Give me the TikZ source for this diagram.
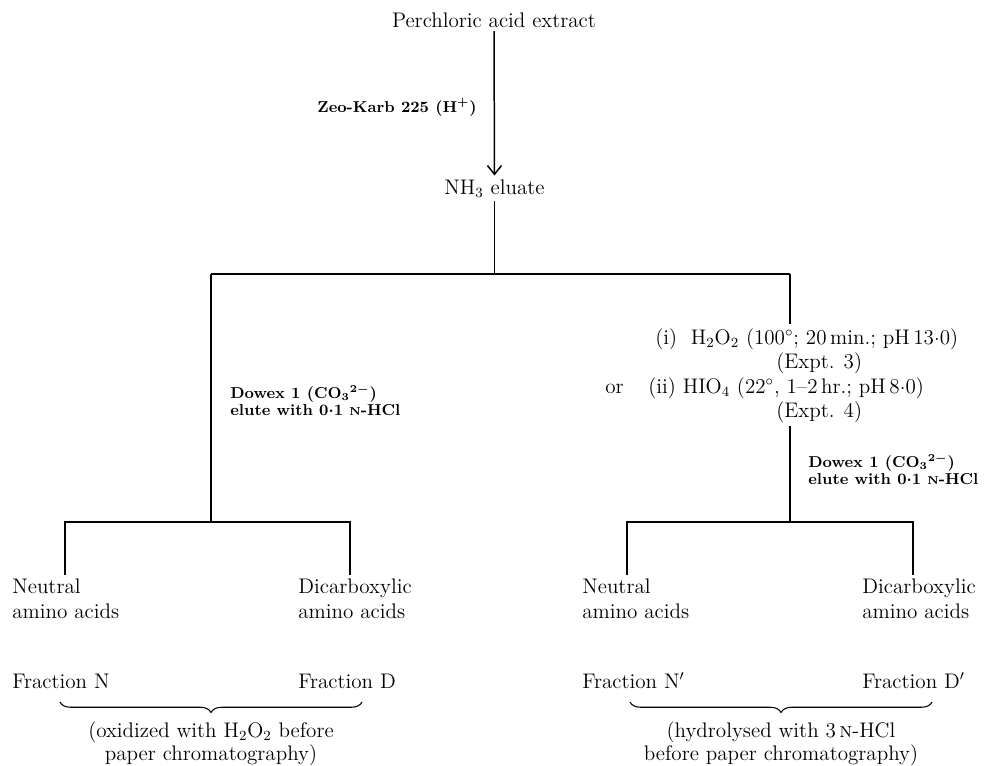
\documentclass[tikz,border=0pt]{standalone}
\usepackage{tikz}
\usetikzlibrary{arrows.meta,positioning,decorations.pathreplacing}

\newcommand{\labN}{{\fontsize{6.5}{6.5}\selectfont N}}
\newcommand{\dec}{\raisebox{0.42ex}{.}}

\tikzset{
  txt/.style={font=\fontsize{12}{14}\selectfont, inner sep=2pt},
  lab/.style={font=\fontsize{9}{9.6}\selectfont\bfseries\boldmath, inner sep=2pt, align=left},
  branch/.style={line width=0.85pt},
  brc/.style={decorate, decoration={brace, mirror, amplitude=0.21cm}, line width=0.6pt}
}

\begin{document}
\begin{tikzpicture}[x=0.02cm,y=-0.02cm]
  \useasboundingbox (0,0) rectangle (984,765);

  % top of the scheme
  \node[txt,anchor=base] (extract) at (494,27) {Perchloric acid extract};
  \node[txt,anchor=base] (eluate) at (494.5,194) {NH$_3$ eluate};
  \draw[branch,-{Straight Barb[length=5pt,width=8pt]}] (extract.south) -- (eluate.north);
  \node[lab,anchor=base east] (zeo) at (480.5,112) {Zeo-Karb 225 (H$^+$)};

  \coordinate (topL) at (211,274);
  \coordinate (topR) at (790,274);
  \coordinate (subL) at (211,522);
  \coordinate (subR) at (790,522);
  \draw[branch] (eluate.south) -- (eluate.south |- topL);
  \draw[branch] (topL) -- (topR);
  \draw[branch] (topL) -- (subL);

  % left branch
  \node[lab,anchor=north west] (dowexL) at (226.5,381) {Dowex 1 (CO$_3{}^{2-}$)\\elute with 0\dec1 \labN-HCl};

  % right branch
  \node[txt,anchor=base west] (treat1) at (651.5,344) {(i)\ \ H$_2$O$_2$ (100$^\circ$; 20\,min.; pH\,13\dec0)};
  \node[txt,anchor=base west] (expt3) at (772.5,368) {(Expt. 3)};
  \node[txt,anchor=base west] (orword) at (601.5,393) {or};
  \node[txt,anchor=base west] (treat2) at (644.5,393) {(ii) HIO$_4$ (22$^\circ$, 1--2\,hr.; pH\,8\dec0)};
  \node[txt,anchor=base west] (expt4) at (772.5,417) {(Expt. 4)};
  \draw[branch] (topR) -- (topR |- treat1.north);
  \draw[branch] (topR |- expt4.south) -- (subR);
  \node[lab,anchor=north west] (dowexR) at (804.5,450) {Dowex 1 (CO$_3{}^{2-}$)\\elute with 0\dec1 \labN-HCl};

  % products
  \node[txt,align=left,anchor=north west] (neutL) at (8.5,575) {Neutral\\amino acids};
  \node[txt,align=left,anchor=north west] (dicL) at (294.5,575) {Dicarboxylic\\amino acids};
  \node[txt,align=left,anchor=north west] (neutR) at (578.5,575) {Neutral\\amino acids};
  \node[txt,align=left,anchor=north west] (dicR) at (858.5,575) {Dicarboxylic\\amino acids};

  \coordinate (nL) at (65,522);
  \coordinate (dL) at (350,522);
  \coordinate (nR) at (627,522);
  \coordinate (dR) at (913,522);
  \draw[branch] (nL |- neutL.north) -- (nL) -- (dL) -- (dL |- dicL.north);
  \draw[branch] (nR |- neutR.north) -- (nR) -- (dR) -- (dR |- dicR.north);

  \node[txt,anchor=base west] (fracN) at (8.5,688) {Fraction N};
  \node[txt,anchor=base west] (fracD) at (294.5,688) {Fraction D};
  \node[txt,anchor=base west] (fracNp) at (578.5,688) {Fraction N$'$};
  \node[txt,anchor=base west] (fracDp) at (858.5,688) {Fraction D$'$};

  % braces and notes
  \coordinate (bL1) at (60,702);
  \coordinate (bL2) at (362,702);
  \coordinate (bR1) at (630,702);
  \coordinate (bR2) at (932,702);
  \draw[brc] (bL1) -- (bL2);
  \draw[brc] (bR1) -- (bR2);
  \node[txt,font=\fontsize{12}{13}\selectfont,align=center,anchor=north] (noteL) at (211,718)
    {(oxidized with H$_2$O$_2$ before\\paper chromatography)};
  \node[txt,font=\fontsize{12}{13}\selectfont,align=center,anchor=north] (noteR) at (781,718)
    {(hydrolysed with 3\,\textsc{n}-HCl\\before paper chromatography)};
\end{tikzpicture}
\end{document}
